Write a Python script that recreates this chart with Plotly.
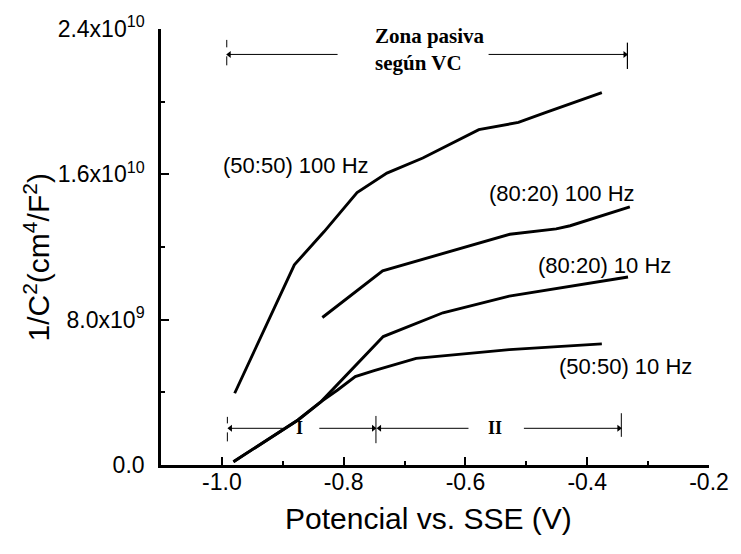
import plotly.graph_objects as go

# Potential (V vs. SSE) and 1/C^2 (cm^4/F^2) for each Mott-Schottky curve
v_5050_100 = [-0.979, -0.881, -0.832, -0.778, -0.729, -0.670, -0.578, -0.513, -0.470, -0.376]
c_5050_100 = [3.95e9, 11.02e9, 12.85e9, 15.0e9, 16.07e9, 16.9e9, 18.46e9, 18.86e9, 19.38e9, 20.5e9]

v_8020_100 = [-0.835, -0.736, -0.527, -0.451, -0.428, -0.330]
c_8020_100 = [8.12e9, 10.69e9, 12.70e9, 13.0e9, 13.17e9, 14.21e9]

v_8020_10 = [-0.981, -0.875, -0.837, -0.735, -0.637, -0.528, -0.333]
c_8020_10 = [0.18e9, 2.48e9, 3.49e9, 7.07e9, 8.38e9, 9.30e9, 10.35e9]

v_5050_10 = [-0.981, -0.875, -0.837, -0.810, -0.781, -0.750, -0.681, -0.528, -0.376]
c_5050_10 = [0.18e9, 2.48e9, 3.49e9, 4.13e9, 4.87e9, 5.20e9, 5.87e9, 6.35e9, 6.67e9]

curve_labels = ["(50:50) 100 Hz", "(80:20) 100 Hz", "(80:20) 10 Hz", "(50:50) 10 Hz"]
label_x = [-0.878, -0.442, -0.372, -0.337]
label_y = [16.5e9, 14.97e9, 10.99e9, 5.40e9]

x_ticks = [-1.0, -0.8, -0.6, -0.4, -0.2]
x_tick_text = ["-1.0", "-0.8", "-0.6", "-0.4", "-0.2"]
x_minor = [-0.9, -0.7, -0.5, -0.3]
y_ticks = [0, 8.0e9, 1.6e10, 2.4e10]
y_tick_text = ["0.0", "8.0x10<sup>9</sup>", "1.6x10<sup>10</sup>", "2.4x10<sup>10</sup>"]
y_minor = [4.0e9, 1.2e10, 2.0e10]

# Potential regions: passive zone (top) and regions I / II (bottom)
zone_left, zone_right, zone_y = -0.992, -0.334, 22.6e9
reg_left, reg_mid, reg_right, reg_y = -0.991, -0.747, -0.344, 2.02e9

# (tail, tip, y) of every arrow in the two brackets
bracket_arrows = [
    (-0.810, zone_left + 0.004, zone_y),
    (-0.562, zone_right - 0.004, zone_y),
    (-0.900, reg_left + 0.005, reg_y),
    (-0.840, reg_mid - 0.004, reg_y),
    (-0.595, reg_mid + 0.006, reg_y),
    (-0.504, reg_right - 0.004, reg_y),
]

SANS = "Arial, Liberation Sans, Helvetica, sans-serif"
SERIF = "Times New Roman, Liberation Serif, serif"

fig = go.Figure()
for vx, cy in [(v_5050_100, c_5050_100), (v_8020_100, c_8020_100),
               (v_8020_10, c_8020_10), (v_5050_10, c_5050_10)]:
    fig.add_trace(go.Scatter(x=vx, y=cy, mode="lines",
                             line=dict(color="black", width=2.9),
                             showlegend=False, hoverinfo="skip"))

# arrowheads of the bracket arrows
fig.add_trace(go.Scatter(
    x=[tip for _, tip, _ in bracket_arrows],
    y=[yv for _, _, yv in bracket_arrows],
    mode="markers", showlegend=False, hoverinfo="skip",
    marker=dict(color="black", size=6,
                symbol=["triangle-left" if tip < tail else "triangle-right"
                        for tail, tip, _ in bracket_arrows]),
))

annotations = []
for txt, lx, ly in zip(curve_labels, label_x, label_y):
    annotations.append(dict(x=lx, y=ly, text=txt, showarrow=False,
                            xanchor="center", yanchor="middle",
                            font=dict(family=SANS, size=22, color="black")))

annotations.append(dict(x=-0.752, y=22.85e9, text="<b>Zona pasiva<br>según VC</b>",
                        showarrow=False, xanchor="left", yanchor="middle", align="left",
                        font=dict(family=SERIF, size=21, color="black")))
annotations.append(dict(x=-0.872, y=reg_y, text="<b>I</b>", showarrow=False,
                        xanchor="center", yanchor="middle",
                        font=dict(family=SERIF, size=18, color="black")))
annotations.append(dict(x=-0.551, y=reg_y, text="<b>II</b>", showarrow=False,
                        xanchor="center", yanchor="middle",
                        font=dict(family=SERIF, size=18, color="black")))

# axis titles
annotations.append(dict(x=0.489, y=-0.122, xref="paper", yref="paper",
                        text="Potencial vs. SSE (V)", showarrow=False,
                        xanchor="center", yanchor="middle",
                        font=dict(family=SANS, size=30, color="black")))
annotations.append(dict(x=-0.227, y=0.475, xref="paper", yref="paper",
                        text="1/C<sup>2</sup>(cm<sup>4</sup>/F<sup>2</sup>)", showarrow=False,
                        textangle=-90, xanchor="center", yanchor="middle",
                        font=dict(family=SANS, size=30, color="black")))

shapes = [
    dict(type="line", x0=zone_left, x1=zone_left, y0=22.0e9, y1=23.4e9,
         line=dict(color="black", width=1, dash="dash")),
    dict(type="line", x0=zone_right, x1=zone_right, y0=21.8e9, y1=23.25e9,
         line=dict(color="black", width=1.2)),
    dict(type="line", x0=reg_left, x1=reg_left, y0=1.3e9, y1=2.65e9,
         line=dict(color="black", width=1, dash="dash")),
    dict(type="line", x0=reg_mid, x1=reg_mid, y0=1.2e9, y1=2.7e9,
         line=dict(color="black", width=1)),
    dict(type="line", x0=reg_right, x1=reg_right, y0=1.55e9, y1=2.85e9,
         line=dict(color="black", width=1)),
]
for tail, tip, yv in bracket_arrows:
    shapes.append(dict(type="line", x0=tail, x1=tip, y0=yv, y1=yv,
                       line=dict(color="black", width=1)))

axis_common = dict(showline=True, linewidth=2.6, linecolor="black", mirror=False,
                   ticks="inside", ticklen=8, tickwidth=2, tickcolor="black",
                   showgrid=False, zeroline=False,
                   tickfont=dict(family=SANS, size=23, color="black"))

fig.update_layout(
    width=741, height=554,
    margin=dict(l=161, r=24, t=29, b=89),
    paper_bgcolor="white", plot_bgcolor="white",
    xaxis=dict(range=[-1.1, -0.2], tickmode="array", tickvals=x_ticks, ticktext=x_tick_text,
               ticklabelstandoff=-5,
               minor=dict(tickvals=x_minor, ticks="inside", ticklen=4, tickwidth=2,
                          tickcolor="black"),
               **axis_common),
    yaxis=dict(range=[0, 2.4e10], tickmode="array", tickvals=y_ticks, ticktext=y_tick_text,
               ticklabelstandoff=9,
               minor=dict(tickvals=y_minor, ticks="inside", ticklen=4, tickwidth=2,
                          tickcolor="black"),
               **axis_common),
    annotations=annotations,
    shapes=shapes,
)

fig.write_html("out.html")
